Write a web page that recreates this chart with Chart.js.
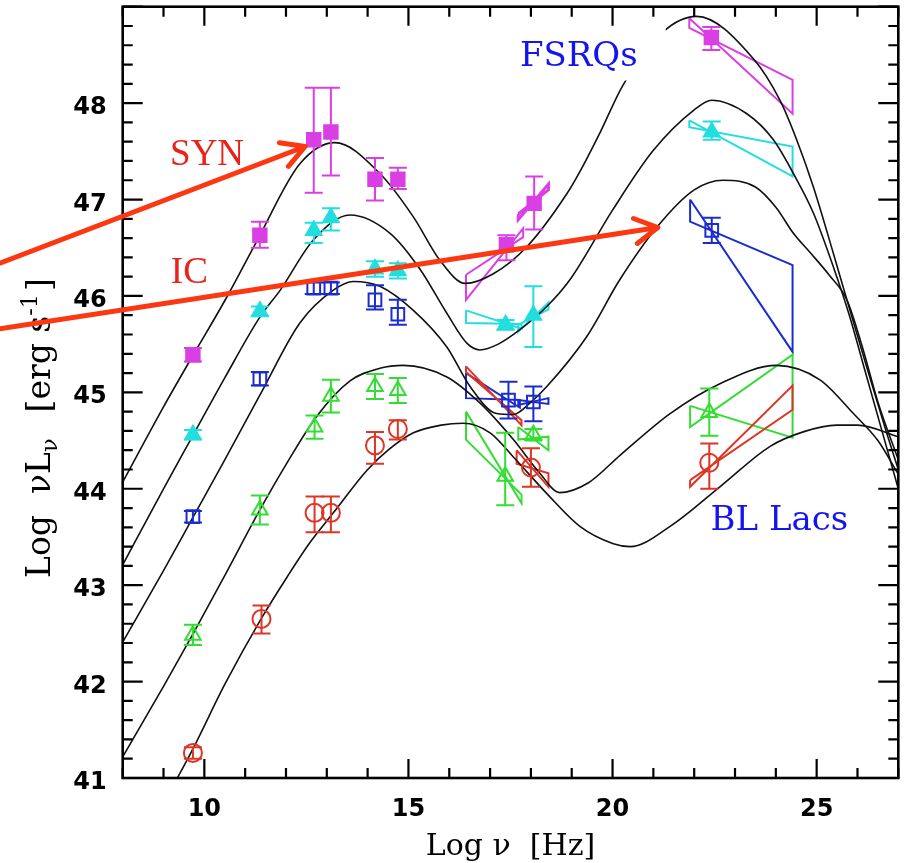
<!DOCTYPE html>
<html>
<head>
<meta charset="utf-8">
<script src="https://cdn.jsdelivr.net/npm/chart.js@4.4.1/dist/chart.umd.min.js"></script>
<style>
  html, body { margin: 0; padding: 0; background: #ffffff; }
  #wrap { width: 905px; height: 863px; position: relative; }
</style>
</head>
<body>
<div id="wrap"><canvas id="sed" width="905" height="863"></canvas></div>
<script>
// Average blazar SEDs binned by radio luminosity (log nu vs log nu L_nu)

// ---- axes ----
const xRange = [8, 27];
const yRange = [41, 49];
const xTickLabels = [10, 15, 20, 25];
const yTickLabels = [41, 42, 43, 44, 45, 46, 47, 48];
const xMinorStep = 1;
const yMinorStep = 0.2;

// ---- binned photometry: value, lower and upper error ----
const magX  = [9.72, 11.36, 12.68, 13.10, 14.18, 14.74, 17.40, 18.08, 22.42];
const magY  = [45.39, 46.63, 47.62, 47.70, 47.21, 47.21, 46.53, 46.96, 48.68];
const magLo = [45.32, 46.50, 47.07, 47.25, 46.99, 47.11, 46.37, 46.69, 48.55];
const magHi = [45.46, 46.77, 48.16, 48.16, 47.43, 47.33, 46.63, 47.24, 48.79];

const cyaX  = [9.72, 11.36, 12.68, 13.10, 14.18, 14.74, 17.38, 18.06, 22.43];
const cyaY  = [44.56, 45.84, 46.68, 46.81, 46.28, 46.26, 45.70, 45.80, 47.70];
const cyaLo = [44.51, 45.79, 46.55, 46.68, 46.20, 46.18, 45.65, 45.47, 47.62];
const cyaHi = [44.61, 45.89, 46.76, 46.91, 46.36, 46.34, 45.75, 46.10, 47.81];

const bluX  = [9.72, 11.36, 12.68, 13.10, 14.18, 14.74, 17.45, 18.06, 22.43];
const bluY  = [43.71, 45.14, 46.08, 46.08, 45.96, 45.81, 44.92, 44.90, 46.68];
const bluLo = [43.65, 45.07, 46.02, 46.02, 45.86, 45.70, 44.73, 44.70, 46.55];
const bluHi = [43.77, 45.21, 46.14, 46.14, 46.11, 45.96, 45.11, 45.06, 46.81];

const grnX  = [9.72, 11.36, 12.70, 13.10, 14.18, 14.74, 17.37, 18.06, 22.37];
const grnY  = [42.48, 43.78, 44.64, 44.96, 45.06, 45.02, 44.13, 44.56, 44.79];
const grnLo = [42.38, 43.63, 44.52, 44.79, 44.93, 44.89, 43.83, 44.50, 44.55];
const grnHi = [42.59, 43.93, 44.76, 45.13, 45.19, 45.15, 44.58, 44.62, 45.04];

const redX  = [9.72, 11.40, 12.70, 13.10, 14.18, 14.74, 18.00, 22.37];
const redY  = [41.26, 42.65, 43.75, 43.75, 44.45, 44.62, 44.22, 44.27];
const redLo = [41.20, 42.50, 43.55, 43.55, 44.26, 44.51, 44.02, 44.00];
const redHi = [41.32, 42.79, 43.92, 43.92, 44.59, 44.71, 44.42, 44.47];

// ---- X-ray and gamma-ray spectral "bow-ties" (closed outlines) ----
const magSoftX = [16.41, 17.81, 17.81, 16.41, 16.41];
const magSoftY = [46.22, 46.61, 46.70, 45.96, 46.22];
const magHardX = [17.69, 18.43, 18.43, 17.69, 17.69];
const magHardY = [46.85, 47.10, 47.16, 46.79, 46.85];
const magGamX  = [21.88, 24.41, 24.41, 21.88, 21.88];
const magGamY  = [48.88, 47.89, 48.24, 48.78, 48.88];

const cyaSoftX = [16.41, 17.77, 17.77, 16.41, 16.41];
const cyaSoftY = [45.85, 45.66, 45.71, 45.72, 45.85];
const cyaHardX = [17.69, 18.43, 18.43, 17.69, 17.69];
const cyaHardY = [45.70, 45.86, 45.93, 45.63, 45.70];
const cyaGamX  = [21.88, 24.41, 24.41, 21.88, 21.88];
const cyaGamY  = [47.82, 47.24, 47.55, 47.75, 47.82];

const bluSoftX = [16.41, 17.73, 17.73, 16.41, 16.41];
const bluSoftY = [45.20, 44.84, 44.92, 44.94, 45.20];
const bluHardX = [17.69, 18.43, 18.43, 17.69, 17.69];
const bluHardY = [44.92, 44.88, 44.94, 44.87, 44.92];
const bluGamX  = [21.90, 24.41, 24.41, 21.90, 21.90];
const bluGamY  = [47.00, 45.42, 46.32, 46.77, 47.00];

const grnSoftX = [16.41, 17.77, 17.77, 16.41, 16.41];
const grnSoftY = [44.80, 43.85, 43.94, 44.51, 44.80];
const grnHardX = [17.69, 18.43, 18.43, 17.69, 17.69];
const grnHardY = [44.64, 44.40, 44.54, 44.51, 44.64];
const grnGamX  = [21.90, 24.41, 24.41, 21.90, 21.90];
const grnGamY  = [44.86, 44.53, 45.39, 44.64, 44.86];

const redSoftX = [16.41, 17.77, 17.77, 16.41, 16.41];
const redSoftY = [45.27, 44.66, 44.71, 45.21, 45.27];
const redHardX = [17.65, 18.43, 18.43, 17.65, 17.65];
const redHardY = [44.40, 44.02, 44.16, 44.26, 44.40];
const redGamX  = [21.90, 24.41, 24.41, 21.90, 21.90];
const redGamY  = [44.09, 44.82, 45.07, 44.02, 44.09];

// ---- phenomenological SED models, one per luminosity bin ----
const model1X = [8, 9, 9.73, 10.5, 11.3, 12.34, 13.2, 14.3, 15.12, 15.77, 16.39, 17.08, 17.9, 18.88, 19.2, 19.7, 20.26, 21.24, 22.06, 23.45, 24.1, 24.51, 24.92, 25.41, 25.74, 26.2, 26.7, 27];
const model1Y = [44.07, 44.85, 45.39, 45.95, 46.58, 47.37, 47.59, 47.27, 46.82, 46.37, 46.13, 46.23, 46.51, 47.06, 47.29, 47.70, 48.19, 48.74, 48.90, 48.46, 48.03, 47.62, 47.13, 46.44, 45.96, 45.30, 44.60, 44.20];
const model2X = [8, 9, 9.73, 10.5, 11.36, 11.86, 12.67, 13.57, 14.55, 15.28, 15.94, 16.43, 16.75, 17.2, 17.73, 18.39, 18.96, 20, 21, 22, 22.43, 23.29, 23.94, 24.43, 24.92, 25.41, 25.8, 26.2, 26.7, 27];
const model2Y = [43.21, 44.0, 44.56, 45.15, 45.78, 46.06, 46.58, 46.84, 46.65, 46.28, 45.82, 45.51, 45.44, 45.50, 45.65, 45.89, 46.17, 46.89, 47.51, 47.93, 48.03, 47.89, 47.62, 47.27, 46.86, 46.30, 45.80, 45.20, 44.45, 44.00];
const model3X = [8, 9, 9.73, 10.5, 11.36, 12.34, 13.16, 13.65, 14.3, 15.12, 15.94, 16.51, 17.16, 17.57, 17.98, 18.39, 19.37, 20.18, 21.1, 22, 22.71, 23.5, 24.0, 24.43, 24.84, 25.3, 25.74, 26.1, 26.5, 27];
const model3Y = [42.41, 43.15, 43.71, 44.30, 44.97, 45.72, 46.06, 46.15, 46.10, 45.85, 45.47, 45.06, 44.78, 44.77, 44.89, 45.06, 45.58, 46.17, 46.72, 47.10, 47.20, 47.13, 46.92, 46.65, 46.45, 46.22, 45.96, 45.50, 44.90, 44.30];
const model4X = [8, 9, 9.73, 10.5, 11.36, 12.0, 12.75, 13.57, 14.3, 14.87, 15.94, 16.75, 17.57, 18.22, 18.7, 19.4, 20.19, 21.41, 22.63, 24.02, 25.08, 25.9, 26.5, 27];
const model4Y = [41.22, 41.95, 42.50, 43.10, 43.78, 44.25, 44.75, 45.12, 45.25, 45.28, 45.16, 44.89, 44.51, 44.16, 43.96, 44.06, 44.35, 44.78, 45.09, 45.28, 45.13, 44.78, 44.50, 44.15];
const model5X = [9.34, 9.73, 10.5, 11.39, 12.02, 12.6, 13.16, 13.98, 14.5, 15.12, 15.8, 16.34, 17.0, 17.57, 18.39, 19.2, 20.02, 20.43, 21.41, 22.63, 23.86, 24.67, 25.49, 26.0, 27];
const model5Y = [41.0, 41.31, 41.97, 42.65, 43.08, 43.45, 43.75, 44.19, 44.40, 44.58, 44.66, 44.68, 44.58, 44.33, 43.95, 43.61, 43.43, 43.40, 43.61, 44.02, 44.44, 44.59, 44.66, 44.66, 44.54];

// ---- annotations (data units) ----
const arrowSyn = { from: [4.99, 46.34], to: [12.47, 47.55] };
const arrowIC  = { from: [4.99, 45.66], to: [21.11, 46.71] };
const labelSyn = { text: 'SYN', at: [9.16, 47.36] };
const labelIC  = { text: 'IC', at: [9.18, 46.13] };
const labelFsrq = { text: 'FSRQs', at: [17.73, 48.38] };
const labelBll  = { text: 'BL Lacs', at: [22.40, 43.57] };

const C = {
  mag: '#d93fe3',
  cya: '#22dede',
  blu: '#1b2ccf',
  grn: '#33dd33',
  red: '#de3524',
  arrow: '#fb3812',
  note: '#e8231a',
  type: '#1414ee'
};

const zip = (xs, ys) => xs.map((x, i) => ({ x: x, y: ys[i] }));

function outline(xs, ys, color, width) {
  return { type: 'line', data: zip(xs, ys), borderColor: color, borderWidth: width || 2,
           pointRadius: 0, fill: false, tension: 0, order: 3 };
}
function model(xs, ys) {
  return { type: 'line', data: zip(xs, ys), borderColor: '#111111', borderWidth: 1.6,
           pointRadius: 0, fill: false, cubicInterpolationMode: 'monotone', order: 2 };
}
function photometry(xs, ys, lo, hi, color, style, filled, radius) {
  return { type: 'scatter', data: zip(xs, ys), showLine: false, errLo: lo, errHi: hi,
           pointStyle: style, pointRadius: radius, pointBorderWidth: 2,
           borderColor: color, backgroundColor: filled ? color : 'rgba(0,0,0,0)',
           pointBackgroundColor: filled ? color : 'rgba(0,0,0,0)', pointBorderColor: color, order: 1 };
}

const datasets = [
  outline(redSoftX, redSoftY, C.red), outline(redHardX, redHardY, C.red), outline(redGamX, redGamY, C.red),
  outline(grnSoftX, grnSoftY, C.grn), outline(grnHardX, grnHardY, C.grn), outline(grnGamX, grnGamY, C.grn),
  outline(bluSoftX, bluSoftY, C.blu), outline(bluHardX, bluHardY, C.blu), outline(bluGamX, bluGamY, C.blu),
  outline(cyaSoftX, cyaSoftY, C.cya), outline(cyaHardX, cyaHardY, C.cya), outline(cyaGamX, cyaGamY, C.cya),
  outline(magSoftX, magSoftY, C.mag), outline(magHardX, magHardY, C.mag, 3), outline(magGamX, magGamY, C.mag),
  model(model1X, model1Y), model(model2X, model2Y), model(model3X, model3Y),
  model(model4X, model4Y), model(model5X, model5Y),
  photometry(redX, redY, redLo, redHi, C.red, 'circle', false, 9),
  photometry(grnX, grnY, grnLo, grnHi, C.grn, 'triangle', false, 9),
  photometry(bluX, bluY, bluLo, bluHi, C.blu, 'rect', false, 9),
  photometry(cyaX, cyaY, cyaLo, cyaHi, C.cya, 'triangle', true, 9),
  photometry(magX, magY, magLo, magHi, C.mag, 'rect', true, 9.5)
];

// vertical error bars with caps for the photometric points
const errorBars = {
  id: 'errorBars',
  afterDatasetsDraw(chart) {
    const ctx = chart.ctx, xs = chart.scales.x, ys = chart.scales.y;
    ctx.save();
    chart.data.datasets.forEach(ds => {
      if (!ds.errLo) return;
      ctx.strokeStyle = ds.borderColor;
      ctx.lineWidth = 2;
      ds.data.forEach((p, i) => {
        const px = xs.getPixelForValue(p.x);
        const y0 = ys.getPixelForValue(ds.errLo[i]);
        const y1 = ys.getPixelForValue(ds.errHi[i]);
        ctx.beginPath();
        ctx.moveTo(px, y0); ctx.lineTo(px, y1);
        ctx.moveTo(px - 9, y0); ctx.lineTo(px + 9, y0);
        ctx.moveTo(px - 9, y1); ctx.lineTo(px + 9, y1);
        ctx.stroke();
      });
    });
    ctx.restore();
  }
};

function arrow(ctx, xs, ys, a, color) {
  const x0 = xs.getPixelForValue(a.from[0]), y0 = ys.getPixelForValue(a.from[1]);
  const x1 = xs.getPixelForValue(a.to[0]),   y1 = ys.getPixelForValue(a.to[1]);
  const ang = Math.atan2(y1 - y0, x1 - x0);
  const head = 26, spread = Math.PI / 6.2;
  ctx.save();
  ctx.strokeStyle = color; ctx.lineWidth = 5; ctx.lineCap = 'round'; ctx.lineJoin = 'round';
  ctx.beginPath();
  ctx.moveTo(x0, y0); ctx.lineTo(x1, y1);
  ctx.moveTo(x1 - head * Math.cos(ang - spread), y1 - head * Math.sin(ang - spread));
  ctx.lineTo(x1, y1);
  ctx.lineTo(x1 - head * Math.cos(ang + spread), y1 - head * Math.sin(ang + spread));
  ctx.stroke();
  ctx.restore();
}

function runs(ctx, parts, size, family) {
  let w = 0;
  parts.forEach(p => {
    ctx.font = (p.s ? size * 0.68 : size) + 'px ' + family;
    p.w = ctx.measureText(p.t).width + (p.gap || 0); w += p.w;
  });
  return w;
}

// frame, inward ticks, tick labels, axis titles and annotations
const frame = {
  id: 'frame',
  afterDraw(chart) {
    const ctx = chart.ctx, a = chart.chartArea, xs = chart.scales.x, ys = chart.scales.y;
    ctx.save();
    ctx.strokeStyle = '#000'; ctx.lineWidth = 2.2;
    ctx.beginPath();
    for (let v = xRange[0]; v <= xRange[1] + 1e-9; v += xMinorStep) {
      const px = xs.getPixelForValue(v);
      const major = Math.abs(v / 5 - Math.round(v / 5)) < 1e-6;
      const L = major ? 19 : 10;
      ctx.moveTo(px, a.bottom); ctx.lineTo(px, a.bottom - L);
      ctx.moveTo(px, a.top); ctx.lineTo(px, a.top + L);
    }
    for (let k = 0; k <= Math.round((yRange[1] - yRange[0]) / yMinorStep); k++) {
      const v = yRange[0] + k * yMinorStep;
      const py = ys.getPixelForValue(v);
      const L = (k % 5 === 0) ? 20 : 10;
      ctx.moveTo(a.left, py); ctx.lineTo(a.left + L, py);
      ctx.moveTo(a.right, py); ctx.lineTo(a.right - L, py);
    }
    ctx.stroke();
    ctx.lineWidth = 2.6;
    ctx.strokeRect(a.left, a.top, a.right - a.left, a.bottom - a.top);

    // tick labels
    ctx.fillStyle = '#000';
    ctx.font = 'bold 24px "DejaVu Sans"';
    ctx.textAlign = 'center'; ctx.textBaseline = 'alphabetic';
    xTickLabels.forEach(v => ctx.fillText(String(v), xs.getPixelForValue(v), a.bottom + 38));
    ctx.textAlign = 'right';
    yTickLabels.forEach(v => ctx.fillText(String(v), a.left - 16, ys.getPixelForValue(v) + 11));

    // x title
    ctx.font = '30px "DejaVu Serif"';
    ctx.textAlign = 'center';
    ctx.fillText('Log \u03bd  [Hz]', (a.left + a.right) / 2, 855);

    // y title with sub- and superscript
    const fam = '"DejaVu Serif"', sz = 33;
    const parts = [{ t: 'Log  \u03bdL' }, { t: '\u03bd', s: 1, dy: 7, gap: 5 }, { t: '  [erg s' }, { t: '-1', s: 1, dy: -13, gap: 3 }, { t: ']' }];
    const w = runs(ctx, parts, sz, fam);
    ctx.save();
    ctx.translate(50, 428);
    ctx.rotate(-Math.PI / 2);
    ctx.textAlign = 'left';
    let cx = -w / 2;
    parts.forEach(p => {
      ctx.font = (p.s ? sz * 0.68 : sz) + 'px ' + fam;
      ctx.fillText(p.t, cx, p.dy || 0);
      cx += p.w;
    });
    ctx.restore();

    // arrows and labels
    arrow(ctx, xs, ys, arrowSyn, C.arrow);
    arrow(ctx, xs, ys, arrowIC, C.arrow);
    ctx.textAlign = 'left';
    ctx.font = '37px "Liberation Serif"';
    ctx.fillStyle = C.note;
    ctx.fillText(labelSyn.text, xs.getPixelForValue(labelSyn.at[0]), ys.getPixelForValue(labelSyn.at[1]));
    ctx.fillText(labelIC.text, xs.getPixelForValue(labelIC.at[0]), ys.getPixelForValue(labelIC.at[1]));

    ctx.font = '34px "DejaVu Serif"';
    const fx = xs.getPixelForValue(labelFsrq.at[0]), fy = ys.getPixelForValue(labelFsrq.at[1]);
    const fw = ctx.measureText(labelFsrq.text).width;
    ctx.fillStyle = '#fff';
    ctx.fillRect(fx - 12, fy - 40, fw + 40, 54);
    ctx.fillStyle = C.type;
    ctx.fillText(labelFsrq.text, fx, fy);
    ctx.fillText(labelBll.text, xs.getPixelForValue(labelBll.at[0]), ys.getPixelForValue(labelBll.at[1]));
    ctx.restore();
  }
};

new Chart(document.getElementById('sed'), {
  data: { datasets: datasets },
  options: {
    responsive: false,
    animation: false,
    devicePixelRatio: 1,
    layout: { autoPadding: false, padding: { left: 122.7, right: 6.7, top: 6.7, bottom: 85 } },
    plugins: { legend: { display: false }, tooltip: { enabled: false } },
    scales: {
      x: { type: 'linear', min: xRange[0], max: xRange[1], display: false },
      y: { type: 'linear', min: yRange[0], max: yRange[1], display: false }
    }
  },
  plugins: [errorBars, frame]
});
</script>
</body>
</html>
